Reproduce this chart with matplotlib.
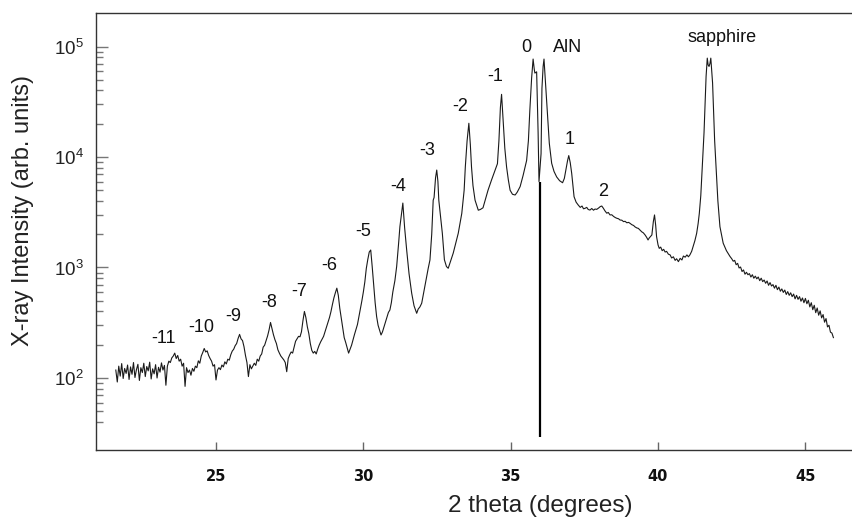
import numpy as np
import matplotlib
matplotlib.use("Agg")
import matplotlib.pyplot as plt
from matplotlib.ticker import FixedLocator, NullFormatter

# ---- data ----
# low angle part, regular 0.05 deg step (21.60 .. 31.00)
tt_low = np.round(np.arange(21.60, 31.001, 0.05), 2)
cps_low = [
    118, 92, 128, 104, 135, 99, 122, 110, 131, 97,
    126, 108, 138, 101, 119, 133, 95, 124, 112, 136,
    103, 127, 116, 139, 98, 121, 109, 132, 100, 125,
    113, 137, 118, 130, 86, 128, 142, 138, 152, 158,
    168, 150, 160, 142, 148, 128, 136, 84, 124, 112,
    118, 106, 122, 115, 128, 124, 143, 136, 158, 170,
    185, 172, 176, 160, 150, 142, 128, 132, 96, 118,
    124, 119, 131, 126, 140, 134, 148, 145, 162, 175,
    182, 196, 205, 228, 248, 226, 218, 192, 160, 138,
    103, 132, 121, 128, 136, 130, 148, 142, 158, 165,
    190, 198, 218, 240, 272, 318, 280, 246, 222, 205,
    180, 168, 158, 152, 146, 138, 114, 150, 162, 172,
    168, 190, 215, 226, 238, 236, 262, 330, 400, 352,
    290, 252, 205, 178, 168, 174, 165, 182, 198, 212,
    225, 238, 262, 290, 318, 352, 398, 462, 530, 590,
    650, 560, 428, 350, 282, 232, 210, 188, 168, 182,
    198, 222, 248, 275, 305, 360, 420, 500, 600, 740,
    980, 1180, 1380, 1440, 1020, 700, 480, 360, 300, 272,
    245, 262, 290, 320, 358, 392, 412, 480, 600,
]

# fringes -4 .. 2, AlN and the region up to the sapphire peak
tt_mid = [
    31.07, 31.13, 31.20, 31.24, 31.34, 31.40, 31.47, 31.55, 31.64, 31.72,
    31.81, 31.86, 31.92, 31.98, 32.06, 32.14, 32.20, 32.26, 32.32, 32.37,
    32.40, 32.45, 32.49, 32.53, 32.56, 32.68, 32.75, 32.82, 32.88, 32.94,
    33.05, 33.22, 33.34, 33.42, 33.46, 33.52, 33.58, 33.63, 33.67, 33.72,
    33.79, 33.90, 33.97, 34.06, 34.15, 34.23, 34.35, 34.47, 34.55, 34.60,
    34.65, 34.69, 34.74, 34.80, 34.86, 34.92, 34.98, 35.06, 35.15, 35.22,
    35.32, 35.42, 35.54, 35.60, 35.65, 35.71, 35.76, 35.80, 35.82, 35.88,
    35.90, 35.93, 35.96, 36.03, 36.06, 36.10, 36.13, 36.17, 36.22, 36.31,
    36.39, 36.47, 36.56, 36.66, 36.76, 36.82, 36.87, 36.93, 36.97, 37.02,
    37.07, 37.15, 37.22, 37.29, 37.36, 37.42, 37.47, 37.52, 37.58, 37.63,
    37.69, 37.75, 37.81, 37.86, 37.92, 37.98, 38.04, 38.09, 38.14, 38.20,
    38.26, 38.31, 38.37, 38.43, 38.49, 38.55, 38.60, 38.66, 38.71, 38.77,
    38.83, 38.88, 38.94, 39.00, 39.05, 39.11, 39.17, 39.22, 39.28, 39.33,
    39.39, 39.45, 39.50, 39.56, 39.61, 39.66, 39.70, 39.74, 39.79, 39.84,
    39.88, 39.92, 39.95, 40.00, 40.04, 40.09, 40.14, 40.19, 40.24, 40.29,
    40.35, 40.41, 40.46, 40.52, 40.58, 40.63, 40.69, 40.75, 40.81, 40.86,
    40.92, 40.98, 41.03, 41.08, 41.14, 41.19, 41.25, 41.31, 41.36, 41.40,
    41.45, 41.50, 41.56, 41.63, 41.67, 41.70, 41.73, 41.76, 41.79, 41.85,
    41.92, 41.97, 42.03, 42.10, 42.21, 42.32, 42.44,
]
cps_mid = [
    760, 1020, 1700, 2340, 3830, 2300, 1440, 880, 585, 450,
    385, 420, 440, 475, 620, 800, 980, 1170, 2000, 4070,
    4300, 6500, 7620, 6000, 4070, 2040, 1175, 1020, 984, 1100,
    1350, 2040, 3090, 5000, 8130, 14000, 20200, 13000, 8130, 5500,
    4070, 3300, 3350, 3470, 4200, 5000, 6200, 7600, 8700, 14000,
    28000, 36900, 22000, 12000, 8130, 6200, 5000, 4600, 4530, 4800,
    5400, 6800, 9300, 14000, 26700, 52000, 77000, 62000, 57500, 59000,
    36000, 16600, 5990, 10700, 41700, 66000, 77000, 52000, 32400, 13300,
    8770, 7400, 6600, 6100, 5850, 6400, 7600, 9300, 10300, 8900,
    7100, 4370, 3900, 3680, 3500, 3600, 3400, 3430, 3500, 3350,
    3310, 3420, 3300, 3380, 3360, 3450, 3560, 3600, 3450, 3250,
    3100, 3150, 2990, 3000, 2900, 2830, 2790, 2760, 2690, 2680,
    2600, 2620, 2540, 2560, 2510, 2440, 2400, 2330, 2280, 2260,
    2180, 2100, 2060, 1970, 1880, 1775, 1850, 1900, 1970, 2600,
    2990, 2400, 1900, 1600, 1490, 1530, 1420, 1460, 1380, 1400,
    1320, 1300, 1220, 1250, 1160, 1200, 1130, 1210, 1170, 1270,
    1240, 1300, 1250, 1300, 1400, 1550, 1750, 2040, 2500, 3090,
    4470, 8100, 16600, 53700, 78500, 68000, 66000, 70000, 78500, 46800,
    14100, 8100, 4000, 2340, 1660, 1420, 1260,
]

# high angle tail, 0.05 deg step (42.50 .. 45.95)
tt_high = np.round(np.arange(42.50, 45.951, 0.05), 2)
cps_high = [
    1200, 1140, 1160, 1060, 1090, 990, 1010, 920, 950, 870,
    905, 860, 880, 820, 860, 800, 835, 790, 820, 760,
    800, 745, 770, 720, 755, 690, 730, 680, 700, 650,
    690, 630, 665, 610, 640, 595, 625, 570, 605, 560,
    590, 545, 575, 520, 560, 515, 545, 495, 530, 480,
    525, 470, 505, 440, 480, 415, 455, 390, 430, 370,
    405, 350, 375, 320, 345, 290, 300, 260, 255, 232,
]

two_theta = np.concatenate([tt_low, tt_mid, tt_high])
intensity = np.concatenate([cps_low, cps_mid, cps_high])

# fringe / peak labels: (text, 2theta, intensity)
peak_labels = [
    ("-11", 23.21, 229), ("-10", 24.51, 285), ("-9", 25.59, 359),
    ("-8", 26.81, 480), ("-7", 27.83, 604), ("-6", 28.84, 1033),
    ("-5", 30.00, 2137), ("-4", 31.19, 5380), ("-3", 32.15, 11400),
    ("-2", 33.28, 28900), ("-1", 34.47, 53700), ("0", 35.54, 97500),
    ("AlN", 36.94, 97500), ("1", 37.01, 14300), ("2", 38.13, 4920),
    ("sapphire", 42.16, 120000),
]
marker_tt = 35.99
marker_range = (29.3, 5990)

# ---- figure ----
plt.rcParams['font.family'] = ['Liberation Sans', 'DejaVu Sans']
plt.rcParams['mathtext.fontset'] = 'custom'
plt.rcParams['mathtext.rm'] = 'Liberation Sans'

W, H = 853, 518
fig = plt.figure(figsize=(W / 100, H / 100), dpi=100)
ax = fig.add_axes([96 / W, (H - 450) / H, (W - 96) / W, (450 - 12.7) / H])

ax.plot(two_theta, intensity, color='#1a1a1a', lw=0.8)
ax.vlines(marker_tt, marker_range[0], marker_range[1], color='black', lw=1.6)

ax.set_yscale('log')
ax.set_xlim(20.928, 46.615)
ax.set_ylim(22.3, 202300)

ax.set_xticks([25, 30, 35, 40, 45])
ax.yaxis.set_major_locator(FixedLocator([1e2, 1e3, 1e4, 1e5]))
minors = [40, 50, 60, 70, 80, 90]
for dec in [100, 1000, 10000]:
    minors += [m * dec for m in range(2, 10)]
ax.yaxis.set_minor_locator(FixedLocator(minors))
ax.yaxis.set_minor_formatter(NullFormatter())

for s in ['left', 'bottom', 'top']:
    ax.spines[s].set_color('#333333')
    ax.spines[s].set_linewidth(1.0)
ax.spines['right'].set_visible(False)

ax.tick_params(axis='x', which='major', direction='in', length=6, width=1,
               color='#666666', pad=14, labelsize=10.5, labelcolor='#111111')
ax.tick_params(axis='y', which='major', direction='in', length=8.6, width=1,
               color='#777777', pad=9, labelsize=13.5, labelcolor='#222222')
ax.tick_params(axis='y', which='minor', direction='in', length=5, width=1,
               color='#777777')
for lab in ax.get_xticklabels():
    lab.set_family('DejaVu Sans')
    lab.set_fontweight('bold')

for txt, x, y in peak_labels:
    ax.text(x, y, txt, ha='center', va='center', fontsize=13, color='#111111')

fig.text(23 / W, 1 - 210 / H, 'X-ray Intensity (arb. units)', rotation=90,
         ha='center', va='center', fontsize=17, color='#222222')
fig.text(540 / W, (H - 512) / H, '2 theta (degrees)', ha='center',
         va='baseline', fontsize=17.5, color='#222222')

fig.savefig('out.png', dpi=100)
